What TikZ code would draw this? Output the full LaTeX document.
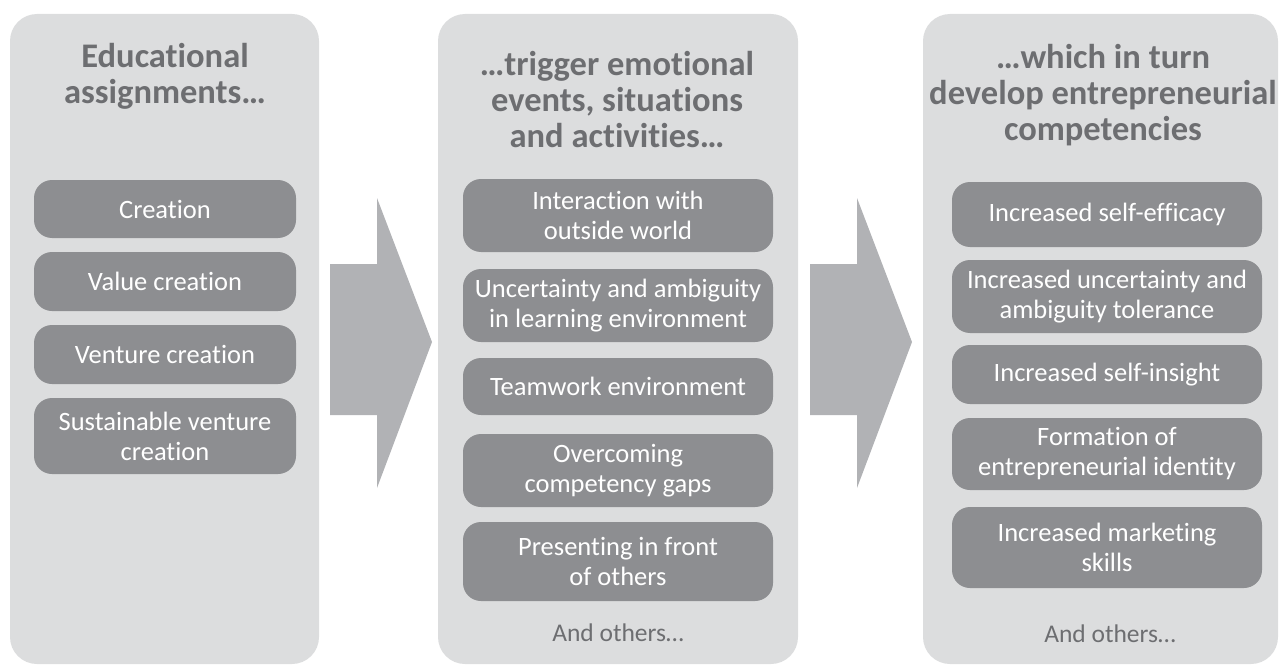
\documentclass[tikz,border=0pt]{standalone}
\usepackage{fontspec}
\setmainfont{Carlito}[RawFeature={-liga;-clig;-calt}]
\definecolor{panelgray}{RGB}{220,221,222}
\definecolor{boxgray}{RGB}{141,142,145}
\definecolor{arrowgray}{RGB}{177,178,181}
\definecolor{textgray}{RGB}{109,110,113}
\begin{document}
\begin{tikzpicture}[x=1pt,y=-1pt,
  panel/.style={fill=panelgray, rounded corners=27pt, inner sep=0pt, minimum height=650pt},
  item/.style={fill=boxgray, rounded corners=18pt, text=white, align=center,
    font=\fontsize{26.5}{30}\selectfont, inner sep=0pt},
  head/.style={text=textgray, align=center, font=\fontsize{34.5}{36}\selectfont\bfseries,
    inner sep=0pt, anchor=north},
  others/.style={text=textgray, font=\fontsize{25.5}{30}\selectfont, anchor=base, inner sep=0pt},
  bigarrow/.style={fill=arrowgray}]
\useasboundingbox (0,0) rectangle (1279,666);

% panels
\node[panel, minimum width=309pt] (p1) at (164.5,339) {};
\node[panel, minimum width=360pt] (p2) at (618,339) {};
\node[panel, minimum width=355pt] (p3) at (1100.5,339) {};

% arrows
\fill[bigarrow] (330,264) -- (377,264) -- (377,198) -- (432,342) -- (377,488) -- (377,415) -- (330,415) -- cycle;
\fill[bigarrow] (810,264) -- (857,264) -- (857,198) -- (912,342) -- (857,488) -- (857,415) -- (810,415) -- cycle;

% headers
\node[head] (h1) at (165,43) {Educational\\assignments…};
\node[head] (h2) at (617,51) {…trigger emotional\\events, situations\\and activities…};
\node[head] (h3) at (1103,44) {…which in turn\\develop entrepreneurial\\competencies};

% column 1
\node[item, minimum width=262pt, minimum height=58pt] (a1) at (165,209) {Creation};
\node[item, minimum width=262pt, minimum height=59pt] (a2) at (165,281.5) {Value creation};
\node[item, minimum width=262pt, minimum height=59pt] (a3) at (165,354.5) {Venture creation};
\node[item, minimum width=262pt, minimum height=76pt] (a4) at (165,436) {Sustainable venture\\creation};

% column 2
\node[item, minimum width=310pt, minimum height=73pt] (b1) at (618,215.5) {Interaction with\\outside world};
\node[item, minimum width=310pt, minimum height=73pt] (b2) at (618,305.5) {Uncertainty and ambiguity\\in learning environment};
\node[item, minimum width=310pt, minimum height=57pt] (b3) at (618,386.5) {Teamwork environment};
\node[item, minimum width=310pt, minimum height=73pt] (b4) at (618,470.5) {Overcoming\\competency gaps};
\node[item, minimum width=310pt, minimum height=79pt] (b5) at (618,561.5) {Presenting in front\\of others};
\node[others] (o2) at (618,641) {And others…};

% column 3
\node[item, minimum width=310pt, minimum height=65pt] (c1) at (1107,214.5) {Increased self-efficacy};
\node[item, minimum width=310pt, minimum height=73pt] (c2) at (1107,296.5) {Increased uncertainty and\\ambiguity tolerance};
\node[item, minimum width=310pt, minimum height=59pt] (c3) at (1107,374.5) {Increased self-insight};
\node[item, minimum width=310pt, minimum height=72pt] (c4) at (1107,454) {Formation of\\entrepreneurial identity};
\node[item, minimum width=310pt, minimum height=81pt] (c5) at (1107,547.5) {Increased marketing\\skills};
\node[others] (o3) at (1110,642) {And others…};
\end{tikzpicture}
\end{document}
